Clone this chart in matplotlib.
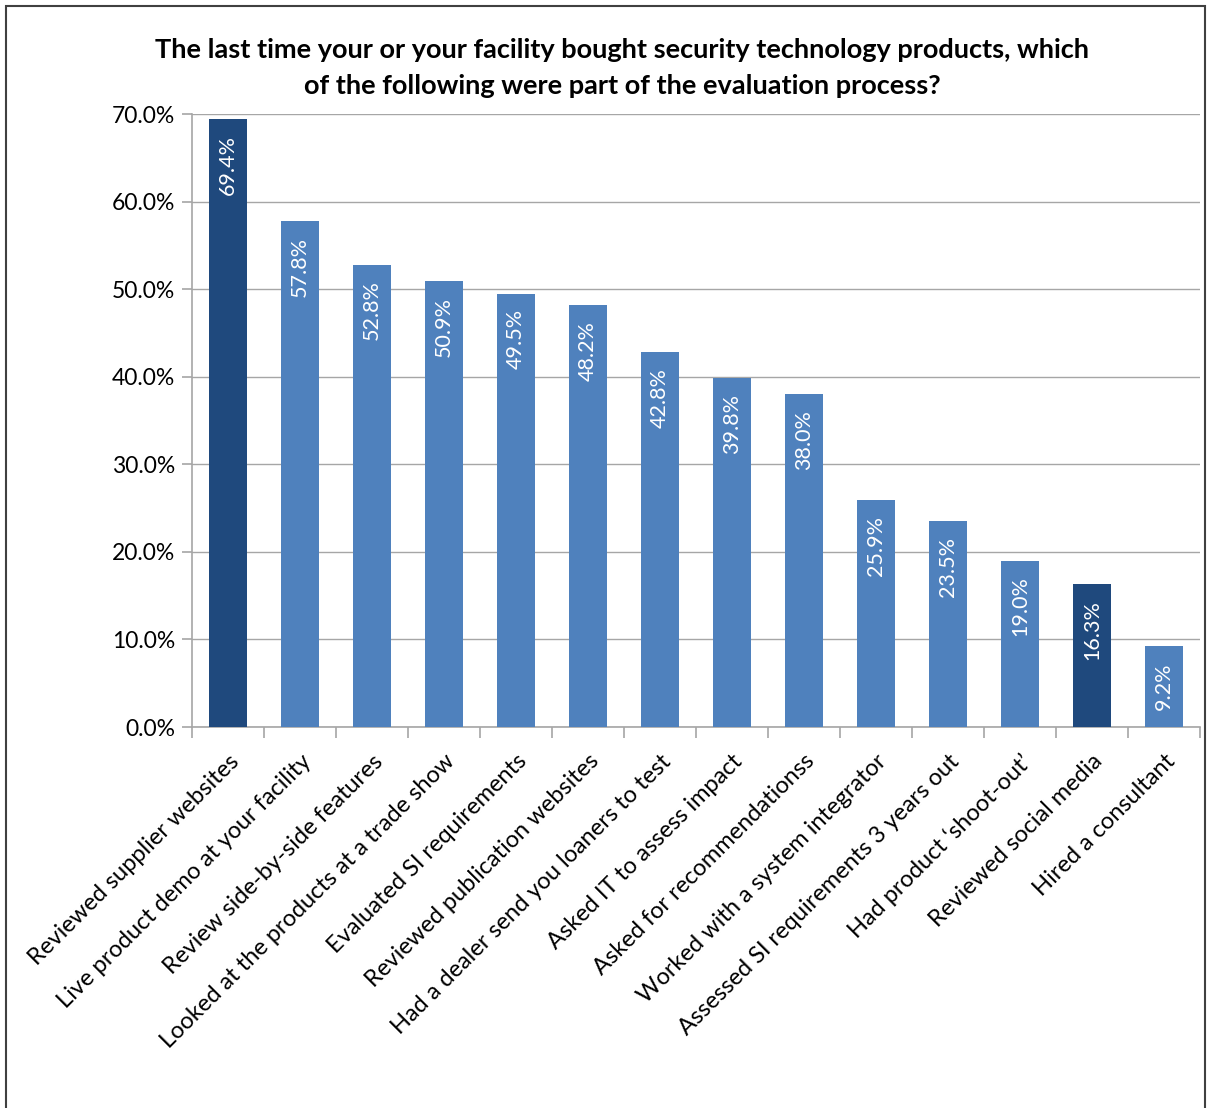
import matplotlib
matplotlib.use("Agg")
import matplotlib.pyplot as plt
from matplotlib.patches import Rectangle
from matplotlib.ticker import FuncFormatter, FixedLocator

plt.rcParams["font.family"] = ["Lato", "DejaVu Sans"]

categories = [
    "Reviewed supplier websites",
    "Live product demo at your facility",
    "Review side-by-side features",
    "Looked at the products at a trade show",
    "Evaluated SI requirements",
    "Reviewed publication websites",
    "Had a dealer send you loaners to test",
    "Asked IT to assess impact",
    "Asked for recommendationss",
    "Worked with a system integrator",
    "Assessed SI requirements 3 years out",
    "Had product \u2018shoot-out\u2019",
    "Reviewed social media",
    "Hired a consultant",
]
values = [69.4, 57.8, 52.8, 50.9, 49.5, 48.2, 42.8, 39.8, 38.0, 25.9, 23.5, 19.0, 16.3, 9.2]
highlighted = ["Reviewed supplier websites", "Reviewed social media"]

LIGHT = "#4F81BD"
DARK = "#1F497D"

fig = plt.figure(figsize=(12.1, 11.08), dpi=100)
ax = fig.add_axes([192 / 1210, 1 - 727 / 1108, 1008 / 1210, 613 / 1108])

colors = [DARK if c in highlighted else LIGHT for c in categories]
x = range(len(categories))
bars = ax.bar(x, values, width=0.53, color=colors, zorder=3)

for b, v in zip(bars, values):
    ax.text(b.get_x() + b.get_width() / 2, v - 1.8, f"{v:.1f}%", rotation=90,
            ha="center", va="top", color="white", fontsize=15.5, zorder=4)

ax.set_xlim(-0.5, len(categories) - 0.5)
ax.set_ylim(0, 70)
ax.set_yticks(range(0, 71, 10))
ax.yaxis.set_major_formatter(FuncFormatter(lambda v, _: f"{v:.1f}%"))
ax.grid(axis="y", color="#A6A6A6", linewidth=1.0, zorder=0)

ax.set_xticks(list(x))
ax.set_xticklabels(categories, rotation=45, ha="right", rotation_mode="anchor", fontsize=17)
ax.tick_params(axis="x", length=0, pad=17)
ax.xaxis.set_minor_locator(FixedLocator([i - 0.5 for i in range(len(categories) + 1)]))
ax.tick_params(axis="x", which="minor", length=8, color="#A6A6A6", width=1.2)
ax.tick_params(axis="y", length=7, color="#A6A6A6", width=1.2, labelsize=16.5, pad=5)

for side in ("top", "right"):
    ax.spines[side].set_visible(False)
for side in ("left", "bottom"):
    ax.spines[side].set_color("#A6A6A6")
    ax.spines[side].set_linewidth(1.2)

fig.text(622 / 1210, 1 - 68 / 1108,
         "The last time your or your facility bought security technology products, which\n"
         "of the following were part of the evaluation process?",
         ha="center", va="center", fontsize=19.5, fontweight="bold", linespacing=1.6)

fig.patches.append(Rectangle((6 / 1210, -0.05), 1199 / 1210, 1.05 - 6 / 1108,
                             transform=fig.transFigure, fill=False,
                             edgecolor="#404040", linewidth=1.5))

fig.savefig("out.png", dpi=100, facecolor="white")
